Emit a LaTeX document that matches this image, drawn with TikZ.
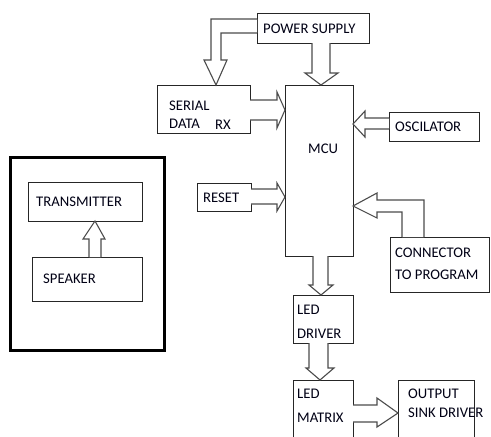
\documentclass[tikz,border=0pt]{standalone}
\usepackage{fontspec}
\setmainfont{Carlito}
\begin{document}
\begin{tikzpicture}[x=1pt,y=-1pt,
  box/.style={draw=black!85, line width=1pt, inner sep=0pt, outer sep=0pt, anchor=north west},
  lbl/.style={anchor=base west, inner sep=0pt, text=black!92!blue, font=\fontsize{14.7}{17}\selectfont},
  fat/.style={draw=black!70, line width=1.1pt, line join=miter, fill=white}]
\useasboundingbox (0,0) rectangle (491,437);

% boxes
\node[box, minimum width=112, minimum height=30] (ps) at (257,13) {};
\node[box, minimum width=93, minimum height=48] (serial) at (157,85) {};
\node[box, minimum width=68, minimum height=171] (mcu) at (285,85) {};
\node[box, minimum width=90, minimum height=29] (osc) at (389,112) {};
\node[box, minimum width=54, minimum height=28] (reset) at (197,183) {};
\node[box, minimum width=99, minimum height=55] (conn) at (390,237) {};
\node[box, minimum width=60, minimum height=48] (drv) at (293,295) {};
\node[box, minimum width=60, minimum height=70] (mat) at (293,380) {};
\node[box, minimum width=76, minimum height=70] (out) at (398,380) {};
\node[box, draw=black, line width=3pt, minimum width=154, minimum height=193] (frame) at (10,157) {};
\node[box, minimum width=114, minimum height=39] (tx) at (28,182) {};
\node[box, minimum width=110, minimum height=44] (spk) at (32,257) {};

% labels
\node[lbl] (tps) at (263,33) {POWER SUPPLY};
\node[lbl] (tser1) at (169,110) {SERIAL};
\node[lbl] (tser2) at (169,128) {DATA};
\node[lbl] (trx) at (215,129) {RX};
\node[lbl] (tmcu) at (308,153) {MCU};
\node[lbl] (tosc) at (395,131) {OSCILATOR};
\node[lbl] (trst) at (203,202) {RESET};
\node[lbl] (tcon1) at (395,257) {CONNECTOR};
\node[lbl] (tcon2) at (395,279) {TO PROGRAM};
\node[lbl] (tdrv1) at (297,314) {LED};
\node[lbl] (tdrv2) at (297,338) {DRIVER};
\node[lbl] (tmat1) at (297,398) {LED};
\node[lbl] (tmat2) at (297,422) {MATRIX};
\node[lbl] (tout1) at (408,398) {OUTPUT};
\node[lbl] (tout2) at (408,417) {SINK DRIVER};
\node[lbl] (ttx) at (36,206) {TRANSMITTER};
\node[lbl] (tspk) at (43,283) {SPEAKER};

% fat arrows
\draw[fat] (312,43) -- (312,73) -- (305,73) -- (321,85) -- (338,73) -- (330,73) -- (330,43);
\draw[fat] (257,19) -- (211,19) -- (211,60) -- (204,60) -- (216,85) -- (227,60) -- (221,60) -- (221,33) -- (257,33);
\draw[fat] (250,100) -- (277,100) -- (277,92) -- (285,110) -- (277,128) -- (277,120) -- (250,120);
\draw[fat] (389,118) -- (365,118) -- (365,111) -- (353,124) -- (365,137) -- (365,129) -- (389,129);
\draw[fat] (251,189) -- (277,189) -- (277,183) -- (285,197) -- (277,211) -- (277,204) -- (251,204);
\draw[fat] (424,237) -- (424,200) -- (377,200) -- (377,193) -- (353,206) -- (377,218) -- (377,212) -- (402,212) -- (402,237);
\draw[fat] (313,256) -- (313,285) -- (309,285) -- (321,295) -- (333,285) -- (328,285) -- (328,256);
\draw[fat] (309,343) -- (309,368) -- (306,368) -- (320,380) -- (334,368) -- (328,368) -- (328,343);
\draw[fat] (353,405) -- (377,405) -- (377,398) -- (398,413) -- (377,427) -- (377,422) -- (353,422);
\draw[fat] (89,257) -- (89,239) -- (83,239) -- (95,221) -- (105,239) -- (101,239) -- (101,257);
\end{tikzpicture}
\end{document}
